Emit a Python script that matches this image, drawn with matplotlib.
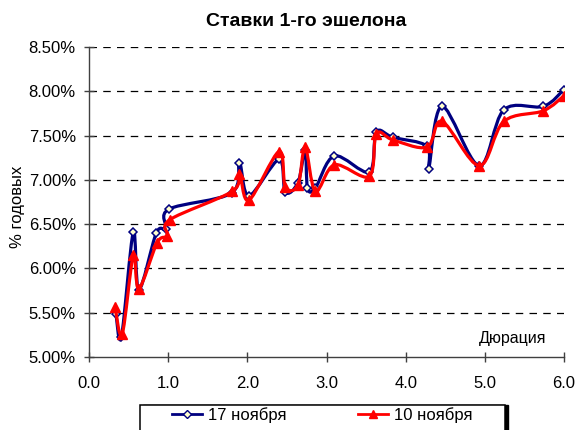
import matplotlib
matplotlib.use("Agg")
import matplotlib.pyplot as plt
import numpy as np
from matplotlib.path import Path
from matplotlib.patches import PathPatch, Rectangle
from matplotlib.lines import Line2D
from matplotlib.ticker import FuncFormatter

plt.rcParams['font.family'] = ['Liberation Sans', 'DejaVu Sans']

title = "Ставки 1-го эшелона"
xlabel = "Дюрация"
ylabel = "% годовых"
series_names = ["17 ноября", "10 ноября"]

nov17_x = [0.34, 0.41, 0.56, 0.63, 0.85, 0.97, 1.01, 1.80, 1.90, 2.02, 2.40, 2.48, 2.64, 2.73,
           2.76, 2.86, 3.10, 3.54, 3.63, 3.84, 4.27, 4.29, 4.46, 4.93, 5.24, 5.74, 6.00]
nov17_y = [5.49, 5.23, 6.41, 5.76, 6.40, 6.45, 6.67, 6.85, 7.19, 6.82, 7.23, 6.86, 6.97, 7.34,
           6.91, 6.91, 7.27, 7.09, 7.54, 7.48, 7.38, 7.12, 7.83, 7.16, 7.79, 7.83, 8.02]

nov10_x = [0.33, 0.42, 0.56, 0.63, 0.86, 0.99, 1.02, 1.81, 1.90, 2.02, 2.40, 2.48, 2.64, 2.73,
           2.86, 3.10, 3.54, 3.63, 3.84, 4.27, 4.46, 4.93, 5.24, 5.74, 6.00]
nov10_y = [5.56, 5.26, 6.15, 5.77, 6.29, 6.37, 6.55, 6.87, 7.07, 6.77, 7.32, 6.92, 6.94, 7.37,
           6.87, 7.17, 7.04, 7.52, 7.45, 7.37, 7.66, 7.16, 7.66, 7.78, 7.95]

x_ticks = [0, 1, 2, 3, 4, 5, 6]
y_ticks = [5.0, 5.5, 6.0, 6.5, 7.0, 7.5, 8.0, 8.5]


def smooth_path(xs, ys, t=1.0 / 6.0):
    p = np.column_stack([xs, ys]).astype(float)
    n = len(p)
    verts = [p[0]]
    codes = [Path.MOVETO]
    for i in range(n - 1):
        p0 = p[i - 1] if i > 0 else p[i]
        p1 = p[i]
        p2 = p[i + 1]
        p3 = p[i + 2] if i + 2 < n else p[i + 1]
        c1 = p1 + (p2 - p0) * t
        c2 = p2 - (p3 - p1) * t
        verts += [c1, c2, p2]
        codes += [Path.CURVE4] * 3
    return Path(verts, codes)


fig = plt.figure(figsize=(5.78, 4.30), dpi=100)
ax = fig.add_axes([89 / 578, (430 - 357) / 430, (564 - 89) / 578, (357 - 47) / 430])

ax.set_xlim(0, 6)
ax.set_ylim(5.0, 8.5)

for v in y_ticks[1:]:
    ax.axhline(v, color='black', lw=0.9, ls=(0, (6, 5)), zorder=1)

blue = '#000080'
red = '#FF0000'

ax.add_patch(PathPatch(smooth_path(nov17_x, nov17_y), fill=False, edgecolor=blue, lw=2.3, zorder=3,
                       capstyle='round', joinstyle='round'))
ax.plot(nov17_x, nov17_y, ls='none', marker='D', ms=4.5, mfc='#FFFFCC', mec=blue, mew=1.1, zorder=4)

ax.add_patch(PathPatch(smooth_path(nov10_x, nov10_y), fill=False, edgecolor=red, lw=2.3, zorder=5,
                       capstyle='round', joinstyle='round'))
ax.plot(nov10_x, nov10_y, ls='none', marker='^', ms=7, mfc=red, mec=red, zorder=6)

ax.set_xticks(x_ticks)
ax.xaxis.set_major_formatter(FuncFormatter(lambda v, p: f"{v:.1f}"))
ax.set_yticks(y_ticks)
ax.yaxis.set_major_formatter(FuncFormatter(lambda v, p: f"{v:.2f}%"))

for s in ['top', 'right']:
    ax.spines[s].set_visible(False)
for s in ['left', 'bottom']:
    ax.spines[s].set_color('#404040')
    ax.spines[s].set_linewidth(1.0)

ax.tick_params(axis='both', direction='inout', length=7, width=1, color='#404040', labelsize=12)
ax.tick_params(axis='x', pad=10)
ax.tick_params(axis='y', pad=6)

ax.text(0.962, 0.035, xlabel, transform=ax.transAxes, ha='right', va='bottom', fontsize=11.5)
fig.text(18 / 578, 1 - 207 / 430, ylabel, rotation=90, ha='center', va='center', fontsize=12)
fig.text(306 / 578, 1 - 21 / 430, title, ha='center', va='center', fontsize=14, fontweight='bold')

# legend frame with shadow
H = 430.0
W = 578.0
fig.patches.append(Rectangle((143 / W, -0.05), 365 / W, 25 / H + 0.05, transform=fig.transFigure,
                             facecolor='black', edgecolor='black', zorder=9))
fig.patches.append(Rectangle((140 / W, -0.05), 365 / W, 25 / H + 0.05, transform=fig.transFigure,
                             facecolor='white', edgecolor='black', lw=1.1, zorder=10))

handles = [
    Line2D([], [], color=blue, lw=2, marker='D', ms=4, mfc='#FFFFCC', mec=blue),
    Line2D([], [], color=red, lw=2, marker='^', ms=6, mfc=red, mec=red),
]
leg = fig.legend(handles, series_names, loc='center', ncol=2,
                 bbox_to_anchor=(322 / W, 1 - 415 / H),
                 bbox_transform=fig.transFigure, frameon=False,
                 fontsize=12, handlelength=1.8, handletextpad=0.35, columnspacing=4.3,
                 borderaxespad=0, borderpad=0)
leg.set_zorder(11)

fig.savefig('out.png', dpi=100)
